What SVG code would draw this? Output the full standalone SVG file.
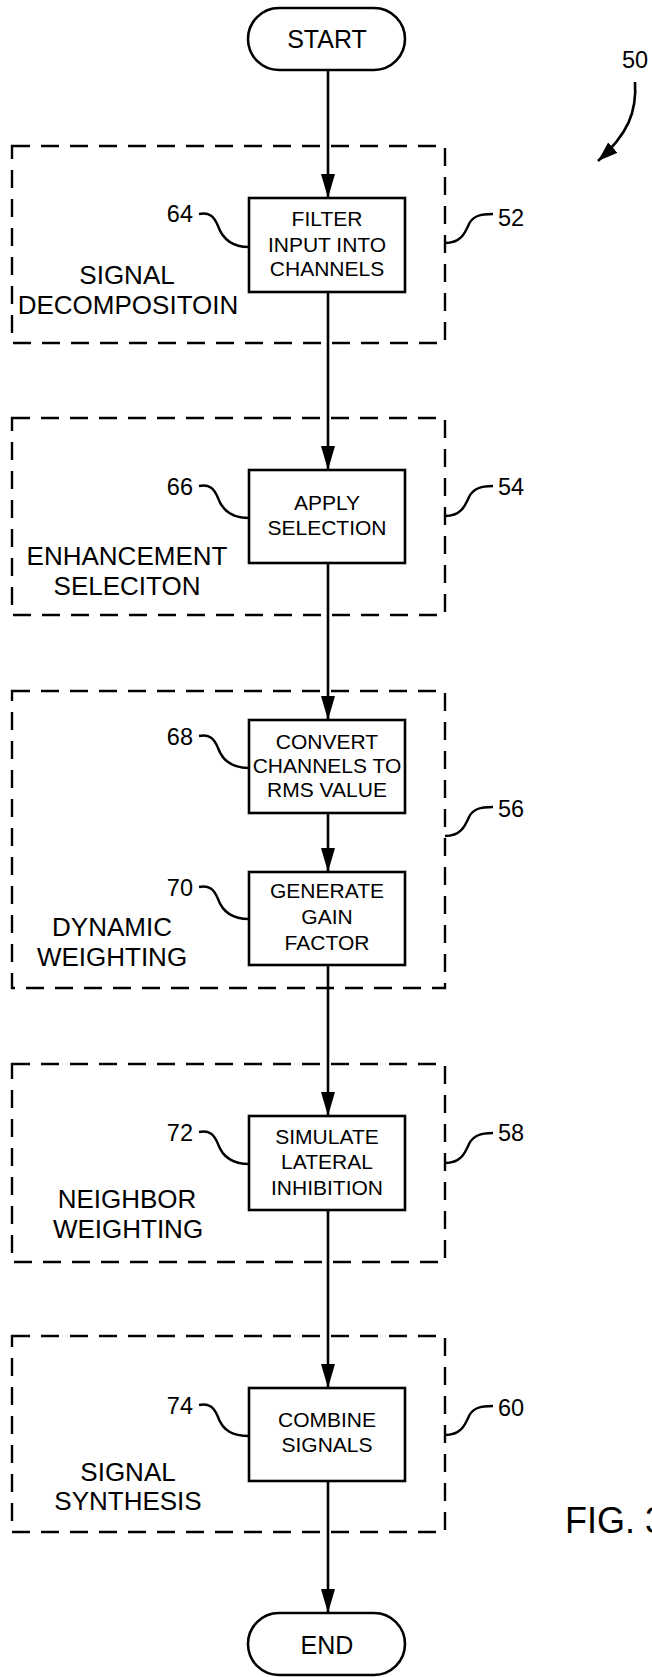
<svg xmlns="http://www.w3.org/2000/svg" width="652" height="1677" viewBox="0 0 652 1677">
<style>
.bg{fill:#fff}
.box{fill:#fff;stroke:#000;stroke-width:2.6}
.grp{fill:none;stroke:#000;stroke-width:2.4;stroke-dasharray:18 11}
.ln{fill:none;stroke:#000;stroke-width:2.6}
.ld{fill:none;stroke:#000;stroke-width:2.4}
.t{font-family:"Liberation Sans",Arial,sans-serif;font-size:21px;fill:#000;text-anchor:middle}
.g{font-family:"Liberation Sans",Arial,sans-serif;font-size:26px;fill:#000;text-anchor:middle}
.n{font-family:"Liberation Sans",Arial,sans-serif;font-size:23.5px;fill:#000}
.p{font-family:"Liberation Sans",Arial,sans-serif;font-size:25px;fill:#000;text-anchor:middle}
</style>
<defs>
<marker id="ah" viewBox="0 0 24 14" refX="24" refY="7" markerWidth="24" markerHeight="14" markerUnits="userSpaceOnUse" orient="auto">
<path d="M0,0 L24,7 L0,14 z" fill="#000"/>
</marker>
<marker id="ah2" viewBox="0 0 20 14" refX="20" refY="7" markerWidth="20" markerHeight="14" markerUnits="userSpaceOnUse" orient="auto">
<path d="M0,0 L20,7 L0,14 z" fill="#000"/>
</marker>
</defs>
<rect class="bg" x="0" y="0" width="652" height="1677"/>

<g id="groups">
<rect id="grp52" class="grp" x="12" y="146" width="433" height="197"/>
<rect id="grp54" class="grp" x="12" y="418" width="433" height="197"/>
<rect id="grp56" class="grp" x="12" y="691" width="433" height="297"/>
<rect id="grp58" class="grp" x="12" y="1064" width="433" height="198"/>
<rect id="grp60" class="grp" x="12" y="1336" width="433" height="196"/>
</g>

<g id="connectors">
<line class="ln" x1="328" y1="70" x2="328" y2="198" marker-end="url(#ah)"/>
<line class="ln" x1="328" y1="292" x2="328" y2="470" marker-end="url(#ah)"/>
<line class="ln" x1="328" y1="563" x2="328" y2="720" marker-end="url(#ah)"/>
<line class="ln" x1="328" y1="813" x2="328" y2="872" marker-end="url(#ah)"/>
<line class="ln" x1="328" y1="965" x2="328" y2="1116" marker-end="url(#ah)"/>
<line class="ln" x1="328" y1="1210" x2="328" y2="1388" marker-end="url(#ah)"/>
<line class="ln" x1="328" y1="1481" x2="328" y2="1613" marker-end="url(#ah)"/>
<path class="ln" d="M635,82 C637,112 628,134 598,161" marker-end="url(#ah2)"/>
</g>

<g id="leaders">
<path class="ld" d="M199,214 C209,212 214,216 218,226 C223,240 233,247 249,247"/>
<path class="ld" d="M445,243 C461,243 465,233 469,224 C473,216 480,214 493,214"/>
<path class="ld" d="M199,486 C209,484 214,488 218,498 C223,512 233,518 249,518"/>
<path class="ld" d="M445,516 C461,516 465,506 469,497 C473,489 480,486 493,486"/>
<path class="ld" d="M199,736 C209,734 214,738 218,748 C223,762 233,768 249,768"/>
<path class="ld" d="M445,836 C461,836 465,826 469,817 C473,809 480,807 493,807"/>
<path class="ld" d="M199,887 C209,885 214,889 218,899 C223,913 233,919 249,919"/>
<path class="ld" d="M445,1163 C461,1163 465,1153 469,1144 C473,1136 480,1133 493,1133"/>
<path class="ld" d="M199,1132 C209,1130 214,1134 218,1144 C223,1158 233,1164 249,1164"/>
<path class="ld" d="M199,1405 C209,1403 214,1407 218,1417 C223,1431 233,1436 249,1436"/>
<path class="ld" d="M445,1435 C461,1435 465,1425 469,1416 C473,1408 480,1406 493,1406"/>
</g>

<g id="start">
<rect class="box" x="248" y="8" width="157" height="62" rx="31" ry="31"/>
<text class="p" x="327" y="48">START</text>
</g>

<g id="n64">
<rect class="box" x="249" y="198" width="156" height="94"/>
<text class="t" x="327" y="225.5">FILTER</text>
<text class="t" x="327" y="251.5">INPUT INTO</text>
<text class="t" x="327" y="275.5">CHANNELS</text>
<text class="n" x="193" y="222" text-anchor="end">64</text>
</g>

<g id="n66">
<rect class="box" x="249" y="470" width="156" height="93"/>
<text class="t" x="327" y="510">APPLY</text>
<text class="t" x="327" y="535">SELECTION</text>
<text class="n" x="193" y="495" text-anchor="end">66</text>
</g>

<g id="n68">
<rect class="box" x="249" y="720" width="156" height="93"/>
<text class="t" x="327" y="749">CONVERT</text>
<text class="t" x="327" y="773">CHANNELS TO</text>
<text class="t" x="327" y="797">RMS VALUE</text>
<text class="n" x="193" y="745" text-anchor="end">68</text>
</g>

<g id="n70">
<rect class="box" x="249" y="872" width="156" height="93"/>
<text class="t" x="327" y="898">GENERATE</text>
<text class="t" x="327" y="924">GAIN</text>
<text class="t" x="327" y="950">FACTOR</text>
<text class="n" x="193" y="896" text-anchor="end">70</text>
</g>

<g id="n72">
<rect class="box" x="249" y="1116" width="156" height="94"/>
<text class="t" x="327" y="1144">SIMULATE</text>
<text class="t" x="327" y="1169">LATERAL</text>
<text class="t" x="327" y="1195">INHIBITION</text>
<text class="n" x="193" y="1141" text-anchor="end">72</text>
</g>

<g id="n74">
<rect class="box" x="249" y="1388" width="156" height="93"/>
<text class="t" x="327" y="1427">COMBINE</text>
<text class="t" x="327" y="1452">SIGNALS</text>
<text class="n" x="193" y="1414" text-anchor="end">74</text>
</g>

<g id="end">
<rect class="box" x="248" y="1613" width="157" height="62" rx="31" ry="31"/>
<text class="p" x="327" y="1654">END</text>
</g>

<g id="labels">
<text class="g" x="127" y="284">SIGNAL</text>
<text class="g" x="128" y="314">DECOMPOSITOIN</text>
<text class="g" x="127" y="565">ENHANCEMENT</text>
<text class="g" x="127" y="595">SELECITON</text>
<text class="g" x="112" y="936">DYNAMIC</text>
<text class="g" x="112" y="966">WEIGHTING</text>
<text class="g" x="127" y="1208">NEIGHBOR</text>
<text class="g" x="128" y="1238">WEIGHTING</text>
<text class="g" x="128" y="1481">SIGNAL</text>
<text class="g" x="128" y="1510">SYNTHESIS</text>
<text class="n" x="498" y="226">52</text>
<text class="n" x="498" y="495">54</text>
<text class="n" x="498" y="817">56</text>
<text class="n" x="498" y="1141">58</text>
<text class="n" x="498" y="1416">60</text>
<text class="n" x="622" y="68">50</text>
<text x="565" y="1533" font-family="Liberation Sans, Arial, sans-serif" font-size="36" fill="#000">FIG. 3</text>
</g>
</svg>
